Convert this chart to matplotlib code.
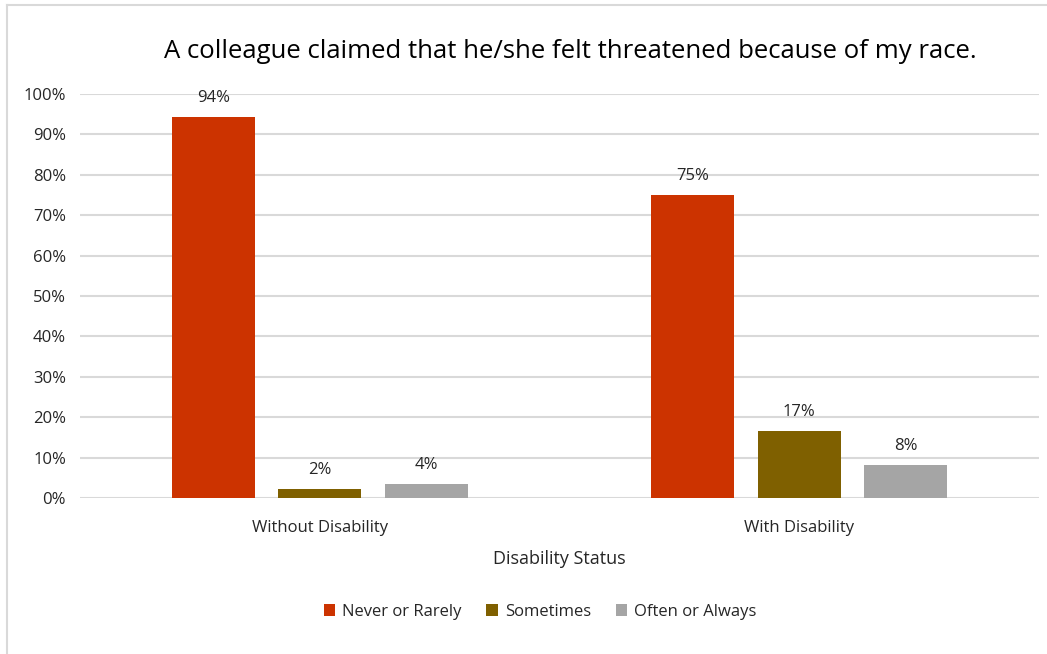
import matplotlib
matplotlib.use("Agg")
import matplotlib.pyplot as plt
import numpy as np
from matplotlib import font_manager

avail = {f.name for f in font_manager.fontManager.ttflist}
fam = [f for f in ["Liberation Sans Narrow", "Open Sans", "DejaVu Sans"] if f in avail]
plt.rcParams['font.family'] = fam

categories = ["Without Disability", "With Disability"]
series = ["Never or Rarely", "Sometimes", "Often or Always"]
never_rarely = [94.3, 75.0]
sometimes = [2.2, 16.6]
often_always = [3.5, 8.2]
labels = [["94%", "75%"], ["2%", "17%"], ["4%", "8%"]]
colors = ["#CC3300", "#7F6000", "#A5A5A5"]
yticks = list(range(0, 101, 10))

fig = plt.figure(figsize=(10.47, 6.54), dpi=100)
ax = fig.add_axes([80/1047, (654-498)/654, (1039-80)/1047, (498-94)/654])

x = np.arange(len(categories))
width = 0.173
step = 0.222
data = [never_rarely, sometimes, often_always]
for i, (vals, col, name) in enumerate(zip(data, colors, series)):
    pos = x + (i - 1) * step
    bars = ax.bar(pos, vals, width, color=col, label=name, zorder=3)
    for b, lab in zip(bars, labels[i]):
        ax.text(b.get_x() + b.get_width()/2, b.get_height() + 2.8, lab,
                ha='center', va='bottom', fontsize=12, color='#262626')

ax.set_xlim(-0.5, 1.5)
ax.set_ylim(0, 100)
ax.set_yticks(yticks)
ax.set_yticklabels([f"{t}%" for t in yticks], fontsize=12, color='#262626')
ax.set_xticks(x)
ax.set_xticklabels(categories, fontsize=12, color='#262626')
ax.tick_params(axis='y', length=0, pad=10)
ax.tick_params(axis='x', length=0, pad=16)
ax.grid(axis='y', color='#D9D9D9', linewidth=1.5, zorder=0)
for s in ax.spines.values():
    s.set_visible(False)
ax.set_xlabel("Disability Status", fontsize=13, color='#262626', labelpad=10)

fig.text(570/1047, 1 - 51/654, "A colleague claimed that he/she felt threatened because of my race.",
         ha='center', va='center', fontsize=18.5, color='#000000')

fig.legend(loc='center', bbox_to_anchor=(540/1047, 1 - 612/654), ncol=3, frameon=False,
           fontsize=12, handlelength=0.7, handleheight=0.7, handletextpad=0.4,
           columnspacing=1.5, labelcolor='#262626')

# light frame on left and top
fig.add_artist(plt.Line2D([7/1047, 7/1047], [0, 1 - 5/654], color='#D9D9D9', lw=1.5, transform=fig.transFigure))
fig.add_artist(plt.Line2D([7/1047, 1], [1 - 5/654, 1 - 5/654], color='#D9D9D9', lw=1.5, transform=fig.transFigure))

fig.savefig("out.png", dpi=100)
